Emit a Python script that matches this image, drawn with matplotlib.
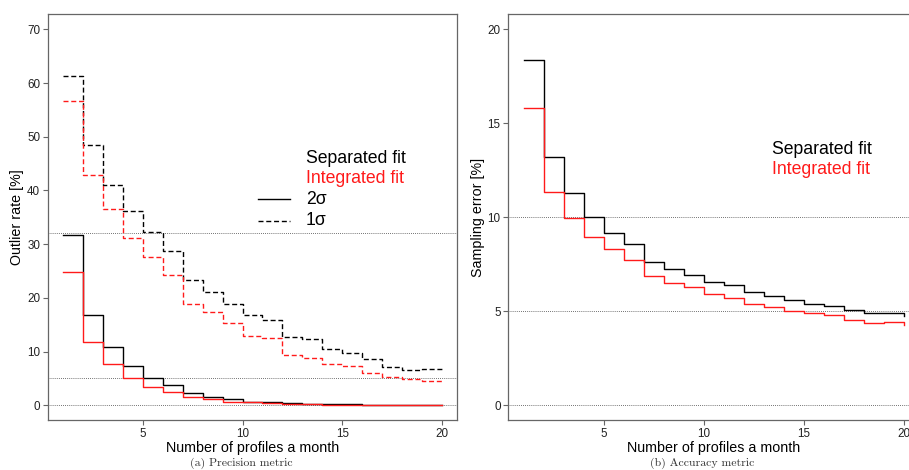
import matplotlib
matplotlib.use("Agg")
import matplotlib.pyplot as plt
import numpy as np

plt.rcParams['font.family'] = ['Liberation Sans', 'DejaVu Sans']

# number of profiles a month
n_profiles = np.arange(1, 21)

# (a) outlier rate [%]
sep_2sigma = [31.7, 16.9, 10.8, 7.3, 5.0, 3.7, 2.2, 1.6, 1.2, 0.7,
              0.7, 0.4, 0.3, 0.3, 0.2, 0.1, 0.05, 0.1, 0.05, 0.0]
int_2sigma = [24.9, 11.8, 7.7, 5.0, 3.4, 2.5, 1.5, 1.1, 0.7, 0.6,
              0.5, 0.3, 0.25, 0.1, 0.1, 0.05, 0.0, 0.0, 0.0, 0.0]
sep_1sigma = [61.4, 48.4, 41.1, 36.2, 32.2, 28.7, 23.4, 21.0, 18.8, 16.9,
              15.8, 12.8, 12.3, 10.4, 9.7, 8.6, 7.2, 6.5, 6.7, 6.6]
int_1sigma = [56.7, 42.8, 36.6, 31.2, 27.6, 24.2, 18.8, 17.4, 15.3, 12.9,
              12.5, 9.4, 8.8, 7.6, 7.3, 6.1, 5.2, 4.9, 4.6, 4.5]
ref_lines_a = [0, 5, 32]

# (b) sampling error [%]
sep_err = [18.37, 13.2, 11.27, 10.04, 9.19, 8.56, 7.62, 7.25, 6.93, 6.57,
           6.38, 6.0, 5.83, 5.58, 5.40, 5.30, 5.07, 4.91, 4.91, 4.77]
int_err = [15.84, 11.37, 9.97, 8.95, 8.29, 7.71, 6.86, 6.52, 6.27, 5.90,
           5.70, 5.39, 5.21, 5.0, 4.89, 4.80, 4.55, 4.39, 4.41, 4.29]
ref_lines_b = [0, 5, 10]

W, H = 909, 470
fig = plt.figure(figsize=(W / 100, H / 100), dpi=100)
ax1 = fig.add_axes([47.7 / W, 49.7 / H, 409.6 / W, 406 / H])
ax2 = fig.add_axes([508.3 / W, 49.7 / H, 410.4 / W, 406 / H])

RED = '#ff1a1a'
lw = 1.0
dash = (3.6, 2.0)


def style(ax, ylabel):
    for s in ax.spines.values():
        s.set_color('#666666')
        s.set_linewidth(0.9)
    ax.tick_params(length=3.5, width=0.8, color='#666666', labelsize=8.4,
                   labelcolor='#222222', pad=2)
    ax.set_xticks([5, 10, 15, 20])
    ax.set_xlim(0.24, 20.76)
    ax.set_xlabel("Number of profiles a month", fontsize=10.3, labelpad=1)
    ax.set_ylabel(ylabel, fontsize=10.3, labelpad=2)


# ---- (a) precision
for v in ref_lines_a:
    ax1.axhline(v, color='#444444', lw=0.6, ls=(0, (1, 1.5)), zorder=1)
ax1.step(n_profiles, sep_1sigma, where='post', color='black', lw=lw, dashes=dash)
ax1.step(n_profiles, int_1sigma, where='post', color=RED, lw=lw, dashes=dash)
ax1.step(n_profiles, sep_2sigma, where='post', color='black', lw=lw)
ax1.step(n_profiles, int_2sigma, where='post', color=RED, lw=lw)
ax1.set_ylim(-2.8, 72.8)
ax1.set_yticks(np.arange(0, 71, 10))
style(ax1, "Outlier rate [%]")

# legend by hand
tx = 0.630
ax1.text(tx, 0.646, "Separated fit", transform=ax1.transAxes, fontsize=12.7,
         va='center', color='black')
ax1.text(tx, 0.595, "Integrated fit", transform=ax1.transAxes, fontsize=12.7,
         va='center', color=RED)
ax1.text(tx, 0.543, "2σ", transform=ax1.transAxes, fontsize=12.7,
         va='center', color='black')
ax1.text(tx, 0.491, "1σ", transform=ax1.transAxes, fontsize=12.7,
         va='center', color='black')
ax1.plot([0.513, 0.591], [0.545, 0.545], transform=ax1.transAxes,
         color='black', lw=lw)
ax1.plot([0.513, 0.591], [0.492, 0.492], transform=ax1.transAxes,
         color='black', lw=lw, dashes=dash)

# ---- (b) accuracy
for v in ref_lines_b:
    ax2.axhline(v, color='#444444', lw=0.6, ls=(0, (1, 1.5)), zorder=1)
ax2.step(n_profiles, sep_err, where='post', color='black', lw=lw)
ax2.step(n_profiles, int_err, where='post', color=RED, lw=lw)
ax2.set_ylim(-0.8, 20.8)
ax2.set_yticks([0, 5, 10, 15, 20])
style(ax2, "Sampling error [%]")
ax2.text(0.642, 0.668, "Separated fit", transform=ax2.transAxes, fontsize=12.7,
         va='center', color='black')
ax2.text(0.642, 0.617, "Integrated fit", transform=ax2.transAxes, fontsize=12.7,
         va='center', color=RED)

# captions
fig.text(241 / W, 1 - 463 / H, "(a) Precision metric", family='cmr10',
         fontsize=8.5, color='#333333', ha='center', va='center')
fig.text(702 / W, 1 - 463 / H, "(b) Accuracy metric", family='cmr10',
         fontsize=8.5, color='#333333', ha='center', va='center')

fig.savefig("out.png", dpi=100)
